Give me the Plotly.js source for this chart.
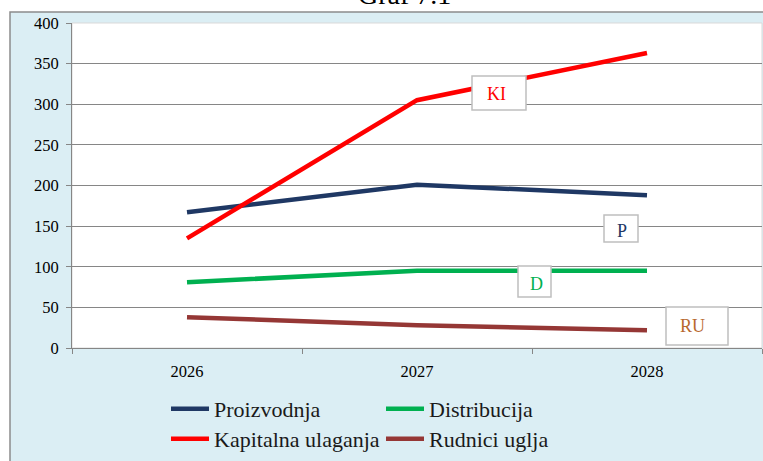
<!DOCTYPE html>
<html>
<head>
<meta charset="utf-8">
<script src="https://cdn.plot.ly/plotly-3.0.1.min.js"></script>
<style>html,body{margin:0;padding:0;background:#fff;}#chart{width:763px;height:461px;}</style>
</head>
<body>
<div id="chart"></div>
<script>
var years = ['2026', '2027', '2028'];
var proizvodnja = [167, 201, 188];
var distribucija = [81, 95, 95];
var kapitalna = [135, 305, 363];
var rudnici = [38, 28, 22];
var seriesNames = ['Proizvodnja', 'Distribucija', 'Kapitalna ulaganja', 'Rudnici uglja'];
var yTicks = [0, 50, 100, 150, 200, 250, 300, 350, 400];
var labelTexts = ['KI', 'P', 'D', 'RU'];

var serif = 'Liberation Serif';
var colors = ['#1F3864', '#00B050', '#FF0000', '#953735'];

function tr(y, i, leg) {
  return {x: years, y: y, name: seriesNames[i], type: 'scatter', mode: 'lines',
    line: {color: colors[i], width: 4.5}, legend: leg, hoverinfo: 'skip'};
}
var data = [
  tr(proizvodnja, 0, 'legend'),
  tr(distribucija, 1, 'legend'),
  tr(kapitalna, 2, 'legend2'),
  tr(rudnici, 3, 'legend2')
];

var L = 72, R = 762, T = 23, B = 348;
function px(x) { return (x - L) / (R - L); }
function py(y) { return (B - y) / (B - T); }

var boxes = [
  {x0: 472, x1: 526, y0: 76, y1: 110, tx: 496, ty: 94, c: '#FF0000'},
  {x0: 604, x1: 638, y0: 215, y1: 242, tx: 622, ty: 231, c: '#1F3864'},
  {x0: 518, x1: 551, y0: 266, y1: 297, tx: 536, ty: 284, c: '#00B050'},
  {x0: 666, x1: 728, y0: 307, y1: 345, tx: 692, ty: 326, c: '#B8692E'}
];

var shapes = [
  {type: 'rect', xref: 'paper', yref: 'paper', x0: px(10), x1: px(775), y0: py(480), y1: py(12),
   fillcolor: '#DBEEF4', line: {color: '#8C8C8C', width: 1.5}, layer: 'below'},
  {type: 'rect', xref: 'paper', yref: 'paper', x0: 0, x1: 1, y0: 0, y1: 1,
   fillcolor: '#FFFFFF', line: {color: '#D9D9D9', width: 1}, layer: 'below'}
];
var annotations = [
  {text: 'Graf 7.1', xref: 'paper', yref: 'paper', x: px(404), y: py(-5), xanchor: 'center', yanchor: 'middle',
   showarrow: false, font: {family: serif, size: 28, color: '#000'}}
];
boxes.forEach(function (b, i) {
  shapes.push({type: 'rect', xref: 'paper', yref: 'paper', x0: px(b.x0), x1: px(b.x1), y0: py(b.y1), y1: py(b.y0),
    fillcolor: '#FFFFFF', line: {color: '#BFBFBF', width: 1.5}, layer: 'above'});
  annotations.push({text: labelTexts[i], xref: 'paper', yref: 'paper', x: px(b.tx), y: py(b.ty),
    xanchor: 'center', yanchor: 'middle', showarrow: false, font: {family: serif, size: 18, color: b.c}});
});

var layout = {
  width: 763, height: 461,
  font: {family: serif, color: '#000'},
  margin: {l: L, r: 763 - R, t: T, b: 461 - B, pad: 0},
  paper_bgcolor: '#FFFFFF', plot_bgcolor: 'rgba(0,0,0,0)',
  showlegend: true,
  xaxis: {type: 'category', range: [-0.5, 2.5], tickson: 'boundaries', ticks: 'outside', ticklen: 5, tickcolor: '#868686',
    showline: true, linecolor: '#868686', linewidth: 1, showgrid: false, zeroline: false,
    tickfont: {family: serif, size: 16.5, color: '#000'}, ticklabelstandoff: 8, fixedrange: true},
  yaxis: {range: [0, 400], tickvals: yTicks, ticks: 'outside', ticklen: 5, tickcolor: '#868686',
    showline: true, linecolor: '#868686', linewidth: 1, gridcolor: '#868686', gridwidth: 1, zeroline: false,
    tickfont: {family: serif, size: 16.5, color: '#000'}, ticklabelstandoff: 4, fixedrange: true},
  legend: {orientation: 'h', x: px(166), y: py(409), xanchor: 'left', yanchor: 'middle',
    bgcolor: 'rgba(0,0,0,0)', itemwidth: 38, entrywidth: 162, entrywidthmode: 'pixels',
    font: {family: serif, size: 22, color: '#1a1a1a'}},
  legend2: {orientation: 'h', x: px(166), y: py(439), xanchor: 'left', yanchor: 'middle',
    bgcolor: 'rgba(0,0,0,0)', itemwidth: 38, entrywidth: 162, entrywidthmode: 'pixels',
    font: {family: serif, size: 22, color: '#1a1a1a'}},
  shapes: shapes,
  annotations: annotations
};
Plotly.newPlot('chart', data, layout, {displayModeBar: false, staticPlot: true});
</script>
</body>
</html>
